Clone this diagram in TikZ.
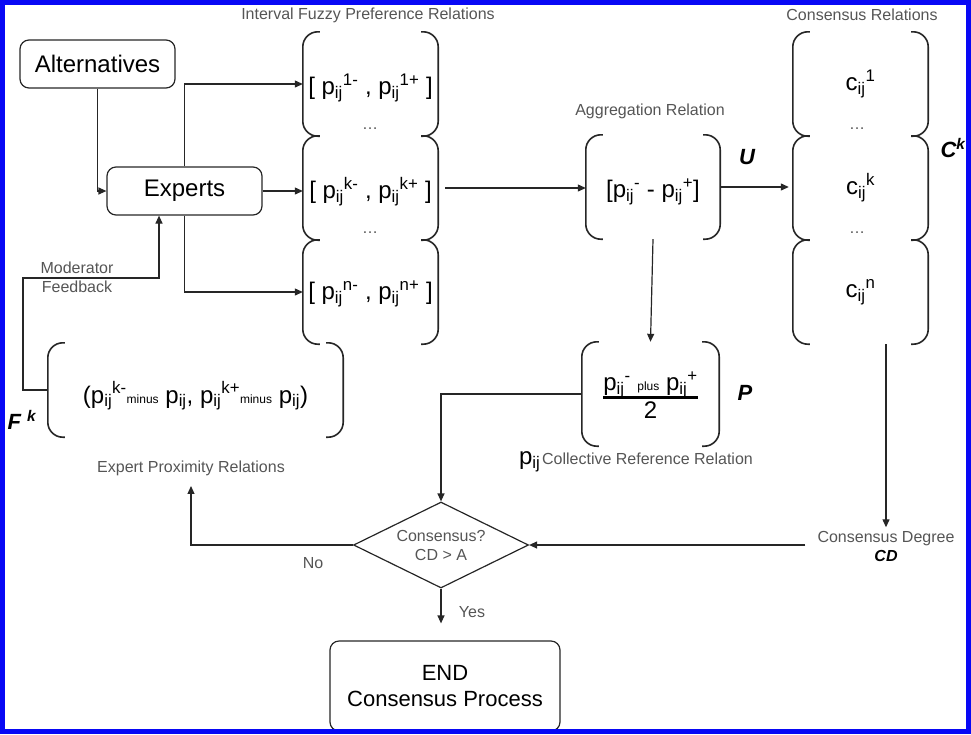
\documentclass[tikz,border=0pt]{standalone}
\usepackage{fontspec}
\setmainfont{Liberation Sans}
\usetikzlibrary{arrows.meta,shapes.geometric}
\definecolor{lblgray}{HTML}{555555}
\definecolor{linegray}{HTML}{262626}
\definecolor{frameblue}{RGB}{8,8,245}
\newcommand{\pij}{p\textsubscript{ij}}
\newcommand{\smalltxt}[1]{{\fontsize{12}{12}\selectfont #1}}
\begin{document}
\begin{tikzpicture}[x=1pt,y=-1pt,
  box/.style={draw=linegray,line width=1.2pt,rounded corners=9pt,inner sep=0pt,font=\fontsize{24}{28}\selectfont},
  rel/.style={inner sep=0pt,minimum width=135pt,minimum height=104pt},
  relfont/.style={inner sep=0pt,font=\fontsize{24}{28}\selectfont},
  lbl/.style={text=lblgray,font=\fontsize{16}{19}\selectfont},
  sym/.style={font=\fontsize{22}{26}\selectfont\bfseries\itshape},
  brk/.style={draw=linegray,line width=1.6pt,rounded corners=15pt},
  arr/.style={draw=linegray,line width=1.2pt,-{Triangle[length=8pt,width=7pt]}}]
\useasboundingbox (0,0) rectangle (971,734);

\node[box,minimum width=155pt,minimum height=48pt] (alt) at (97.5,64) {Alternatives};
\node[box,minimum width=155pt,minimum height=48pt] (exp) at (184.5,191) {Experts};

% interval relations
\node[lbl] (tint) at (368,15) {Interval Fuzzy Preference Relations};
\node[rel,label={[relfont,yshift=-4pt]center:[ \pij\textsuperscript{1-} , \pij\textsuperscript{1+} ]}] (i1) at (370.5,84) {};
\node[rel,label={[relfont,yshift=-4pt]center:[ \pij\textsuperscript{k-} , \pij\textsuperscript{k+} ]}] (ik) at (370.5,188) {};
\node[rel,label={[relfont,yshift=-2pt]center:[ \pij\textsuperscript{n-} , \pij\textsuperscript{n+} ]}] (in) at (370.5,292) {};
\node[lbl] (idots1) at (370,129) {\dots};
\node[lbl] (idots2) at (370,233) {\dots};

% aggregation
\node[lbl] (tagg) at (650,111) {Aggregation Relation};
\node[rel,minimum width=134pt,label={[relfont,yshift=-5pt]center:[\pij\textsuperscript{-} - \pij\textsuperscript{+}]}] (agg) at (653,187) {};
\node[sym] (symU) at (747,157) {U};

% consensus relations
\node[lbl] (tcon) at (862,15) {Consensus Relations};
\node[rel,label={[relfont]center:c\textsubscript{ij}\textsuperscript{1}}] (c1) at (860.5,84) {};
\node[rel,label={[relfont]center:c\textsubscript{ij}\textsuperscript{k}}] (ck) at (860.5,188) {};
\node[rel,label={[relfont]center:c\textsubscript{ij}\textsuperscript{n}}] (cn) at (860.5,292) {};
\node[lbl] (cdots1) at (857,129) {\dots};
\node[lbl] (cdots2) at (857,233) {\dots};
\node[sym] (symC) at (953,148) {C\textsuperscript{k}};

% collective reference
\node[rel,minimum width=137pt,label={[relfont,yshift=-5pt]center:\setlength{\arrayrulewidth}{2.5pt}\begin{tabular}{@{}c@{}}\pij\textsuperscript{-} \smalltxt{plus} \pij\textsuperscript{+}\\[-3pt]\hline 2\end{tabular}}] (ref) at (650.5,394) {};
\node[sym] (symP) at (745,393) {P};
\node (coll) at (636,462) {{\fontsize{24}{28}\selectfont\pij}\,{\color{lblgray}\fontsize{16}{19}\selectfont Collective Reference Relation}};

% proximity
\node[rel,minimum width=295pt,minimum height=94pt,label={[relfont,yshift=-6pt]center:(\pij\textsuperscript{k-}\smalltxt{minus} \pij, \pij\textsuperscript{k+}\smalltxt{minus} \pij)}] (prox) at (195.5,390) {};
\node[sym] (symF) at (22,420) {F \textsuperscript{k}};
\node[lbl] (eprox) at (191,468) {Expert Proximity Relations};
\node[lbl,align=center] (mod) at (77,277) {Moderator\\Feedback};

\foreach \n in {i1,ik,in,c1,ck,cn,agg,ref,prox}{
  \draw[brk] ([xshift=17pt]\n.north west) -- (\n.north west) -- (\n.south west) -- ([xshift=17pt]\n.south west);
  \draw[brk] ([xshift=-17pt]\n.north east) -- (\n.north east) -- (\n.south east) -- ([xshift=-17pt]\n.south east);
}

% decision
\node[diamond,draw=linegray,line width=1.2pt,minimum width=175pt,minimum height=86pt,inner sep=0pt,aspect=2,lbl,align=center] (dia) at (441,545) {Consensus?\\CD > A};
\node[lbl,align=center,inner xsep=12pt] (cdeg) at (886,546) {Consensus Degree\\{\color{black}\bfseries\itshape CD}};
\node[lbl] (no) at (313,563) {No};
\node[lbl] (yes) at (472,612) {Yes};
\node[box,minimum width=230pt,minimum height=90pt,align=center,font=\fontsize{22}{26}\selectfont] (end) at (445,686) {END\\Consensus Process};

\coordinate (fb) at (23,278);
\draw[arr] (alt.south) |- (exp.west);
\draw[arr] (exp.north) |- (i1.west);
\draw[arr] (exp.east) -- (exp.east -| ik.west);
\draw[arr] (exp.south) |- (in.west);
\draw[arr] (prox.west) -| (fb) -| ([xshift=-25.5pt]exp.south);
\draw[arr,shorten <=7pt] (ik.east) -- (ik.east -| agg.west);
\draw[arr,shorten >=4pt] (agg.east) -- (agg.east -| ck.west);
\draw[arr] (agg.south) -- (ref.north);
\draw[arr] (ref.west) -| (dia.north);
\draw[arr] (cn.south -| cdeg.north) -- (cdeg.north);
\draw[arr] (cdeg.west |- dia.east) -- (dia.east);
\draw[arr,shorten >=7pt] (dia.west) -| (eprox.south);
\draw[arr,shorten >=17pt] (dia.south) -- (dia.south |- end.north);

\draw[frameblue,line width=5pt] (2.5,2.5) rectangle (968.5,731.5);
\end{tikzpicture}
\end{document}
